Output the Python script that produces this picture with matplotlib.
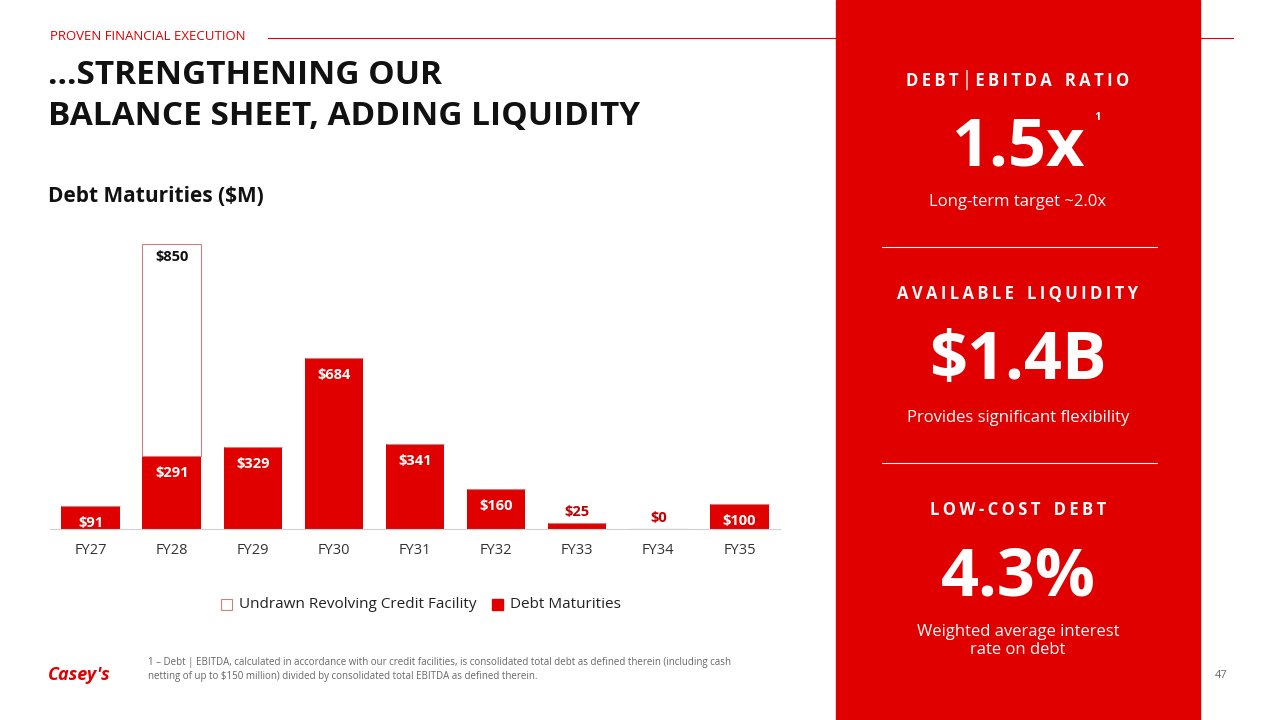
import matplotlib
matplotlib.use('Agg')
import matplotlib.pyplot as plt
from matplotlib.patches import Rectangle

plt.rcParams['font.family'] = ['Open Sans', 'DejaVu Sans']

RED = '#E00000'
years = ['FY27', 'FY28', 'FY29', 'FY30', 'FY31', 'FY32', 'FY33', 'FY34', 'FY35']
debt = [91, 291, 329, 684, 341, 160, 25, 0, 100]
undrawn = [0, 850, 0, 0, 0, 0, 0, 0, 0]

fig = plt.figure(figsize=(12.8, 7.2), dpi=100)
W, H = 1280, 720

# header line first, panel drawn over it
fig.add_artist(plt.Line2D([268 / W, 1233 / W], [1 - 38 / H] * 2, color=RED, lw=0.8,
                          zorder=0))
fig.add_artist(Rectangle((836 / W, 0), 364 / W, 1, transform=fig.transFigure,
                         color=RED, zorder=1))

fig.text(50 / W, 1 - 37 / H, 'PROVEN FINANCIAL EXECUTION', color=RED, fontsize=9.5,
         va='center')
fig.text(48 / W, 1 - 75 / H, '…STRENGTHENING OUR', fontsize=24, fontweight='bold',
         va='center', color='#111111')
fig.text(48 / W, 1 - 116 / H, 'BALANCE SHEET, ADDING LIQUIDITY', fontsize=24,
         fontweight='bold', va='center', color='#111111')
fig.text(48 / W, 1 - 196 / H, 'Debt Maturities ($M)', fontsize=15, fontweight='bold',
         va='center', color='#111111')

ax = fig.add_axes([50 / W, (720 - 529) / H, 730 / W, 300 / H])
x = range(len(years))
ax.bar(x, debt, width=0.72, color=RED, zorder=2)
ax.bar(x, undrawn, bottom=debt, width=0.72, color='white', edgecolor='#C88080',
       linewidth=0.8, zorder=2)
ax.set_ylim(0, 1200)
ax.set_xlim(-0.5, len(years) - 0.5)
for s in ['top', 'right', 'left']:
    ax.spines[s].set_visible(False)
ax.spines['bottom'].set_color('#D0D0D0')
ax.set_yticks([])
ax.set_xticks(list(x))
ax.set_xticklabels(years, fontsize=10.5, color='#333333')
ax.tick_params(axis='x', length=0, pad=10)
for i, v in enumerate(debt):
    if v >= 90:
        ax.text(i, v - 40, f'${v}', ha='center', va='top', color='white',
                fontsize=10.5, fontweight='bold')
    else:
        ax.text(i, v + 15, f'${v}', ha='center', va='bottom', color='#C00000',
                fontsize=10.5, fontweight='bold')
    if undrawn[i]:
        ax.text(i, v + undrawn[i] - 25, f'${undrawn[i]}', ha='center', va='top',
                color='#111111', fontsize=10.5, fontweight='bold')

# legend
fig.patches.append(Rectangle((221 / W, 1 - 610 / H), 11 / W, 11 / H,
                             transform=fig.transFigure, facecolor='white',
                             edgecolor='#C88080', lw=0.8))
fig.text(239 / W, 1 - 604 / H, 'Undrawn Revolving Credit Facility', fontsize=11,
         va='center', color='#222222')
fig.patches.append(Rectangle((492 / W, 1 - 610 / H), 11 / W, 11 / H,
                             transform=fig.transFigure, color=RED))
fig.text(510 / W, 1 - 604 / H, 'Debt Maturities', fontsize=11, va='center',
         color='#222222')

# footnote
fig.text(148 / W, 1 - 662 / H,
         '1 – Debt | EBITDA, calculated in accordance with our credit facilities, is consolidated total debt as defined therein (including cash',
         fontsize=7, color='#666666', va='center')
fig.text(148 / W, 1 - 677 / H,
         'netting of up to $150 million) divided by consolidated total EBITDA as defined therein.',
         fontsize=7, color='#666666', va='center')
fig.text(48 / W, 1 - 675 / H, "Casey's", fontsize=13, fontweight='bold', style='italic',
         color=RED, va='center')
fig.text(1228 / W, 1 - 676 / H, '47', fontsize=8, color='#666666', va='center',
         ha='right')


def spaced(s):
    return '\u2009'.join(s).replace('\u2009 \u2009', '   ')


# right panel text
cx = 1018 / W
panels = [
    (80, 'DEBT│EBITDA RATIO', 148, '1.5x', 202, 'Long-term target ~2.0x'),
    (294, 'AVAILABLE LIQUIDITY', 362, '$1.4B', 418, 'Provides significant flexibility'),
    (510, 'LOW-COST DEBT', 578, '4.3%', 641, 'Weighted average interest\nrate on debt'),
]
for hy, head, by, big, sy, sub in panels:
    fig.text(cx, 1 - hy / H, spaced(head), ha='center', va='center', color='white',
             fontsize=12, fontweight='bold', zorder=3)
    fig.text(cx, 1 - by / H, big, ha='center', va='center', color='white',
             fontsize=48, fontweight='bold', zorder=3)
    fig.text(cx, 1 - sy / H, sub, ha='center', va='center', color='white',
             fontsize=12, linespacing=1.1, zorder=3)
fig.text(1094 / W, 1 - 118 / H, '1', color='white', fontsize=8, fontweight='bold',
         va='center', zorder=3)
for ly in [247, 463]:
    fig.add_artist(plt.Line2D([882 / W, 1157 / W], [1 - ly / H] * 2, color='white',
                              lw=0.8, zorder=3))

fig.savefig('out.png', dpi=100)
